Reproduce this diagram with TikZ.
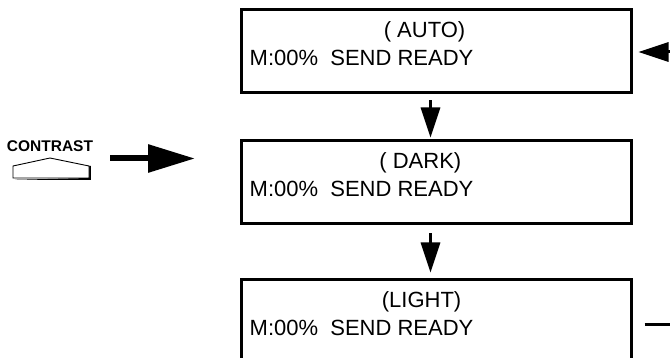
\documentclass[tikz,border=0pt]{standalone}
\usepackage{fontspec}
\setmainfont{Liberation Sans}
\usetikzlibrary{arrows.meta,calc}
\begin{document}
\begin{tikzpicture}[x=1pt,y=-1pt,
  lcd/.style={draw,line width=3.2pt,minimum width=390pt,minimum height=83pt,inner sep=0pt,outer sep=0pt,anchor=north west},
  lcdtxt/.style={font=\fontsize{22}{26}\selectfont,inner sep=0pt},
  darr/.style={line width=3pt,-{Triangle[length=30pt,width=19pt]}},
  bigarr/.style={line width=6pt,-{Triangle[length=47pt,width=27pt]}},
  loopline/.style={line width=3pt}
]
\useasboundingbox (0,0) rectangle (670,358);
\clip (0,0) rectangle (670,358);
% boxes
\node[lcd] (auto) at (241.5,9.5) {};
\node[lcd] (dark) at (241.5,140.5) {};
\node[lcd] (light) at (241.5,279.5) {};
% texts
\node[lcdtxt,anchor=base east] (t1) at ([xshift=-166pt,yshift=-28pt]auto.north east) {( AUTO)};
\node[lcdtxt,anchor=base west] (t2) at ([xshift=8pt,yshift=-56pt]auto.north west) {M:00\%\ \ SEND READY};
\node[lcdtxt,anchor=base east] (t3) at ([xshift=-170pt,yshift=-28pt]dark.north east) {( DARK)};
\node[lcdtxt,anchor=base west] (t4) at ([xshift=8pt,yshift=-56pt]dark.north west) {M:00\%\ \ SEND READY};
\node[lcdtxt,anchor=base east] (t5) at ([xshift=-170pt,yshift=-28pt]light.north east) {(LIGHT)};
\node[lcdtxt,anchor=base west] (t6) at ([xshift=8pt,yshift=-56pt]light.north west) {M:00\%\ \ SEND READY};
% vertical arrows
\draw[darr] ([xshift=-6pt,yshift=-8pt]auto.south) -- ([xshift=-6pt,yshift=3pt]dark.north);
\draw[darr] ([xshift=-6pt,yshift=-10pt]dark.south) -- ([xshift=-6pt,yshift=7pt]light.north);
% loop at right
\coordinate (lo) at ([xshift=13pt,yshift=-4pt]light.east);
\coordinate (hi) at ([xshift=7pt,yshift=-1pt]auto.east);
\draw[loopline,-{Triangle[length=30pt,width=19pt]}] (lo) -- ++(60,0) |- (hi);
% contrast button
\node[font=\bfseries\fontsize{15.5}{18}\selectfont,inner sep=0pt,anchor=base] (ctxt) at (50,152) {CONTRAST};
\coordinate (bl) at (13,178);
\coordinate (br) at (89,178);
\fill[black] ($(bl)+(1.8,1.8)$) -- ($(br)+(1.8,1.8)$) -- ($(br)+(1.8,-12)$) -- (89,166) -- (br) -- cycle;
\draw[line width=0.9pt,fill=white] (bl) -- (13,166) -- (50,158) -- (89,166) -- (br) -- cycle;
\coordinate (cs) at (110,158.5);
\coordinate (ce) at (195,158.5);
\draw[bigarr] (cs) -- (ce);
\end{tikzpicture}
\end{document}
